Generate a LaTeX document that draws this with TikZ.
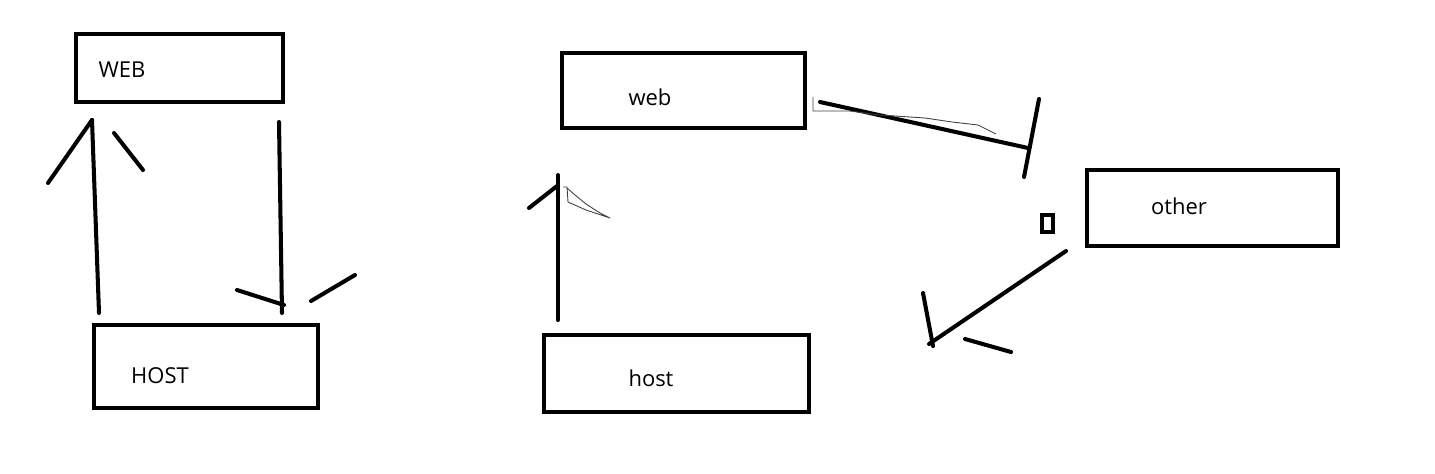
\documentclass[tikz,border=0pt]{standalone}
\usepackage{fontspec}
\setmainfont{Open Sans}
\usetikzlibrary{positioning, fit}

\begin{document}
\begin{tikzpicture}[x=0.02cm, y=-0.02cm,
    box/.style={draw, line width=2.3pt, inner sep=0pt},
    lbl/.style={font=\fontsize{12.5}{15}\selectfont},
    pen/.style={line width=2.3pt, line cap=round},
    scribble/.style={line width=0.5pt, black!75, line join=round}]
  \useasboundingbox (0,0) rectangle (1435,473);

  % boxes
  \node [box, fit={(76,34) (283,102)}] (WEB) {};%
  \node [box, fit={(94,325) (318,408)}] (HOST) {};%
  \node [box, fit={(562,53) (805,128)}] (web) {};%
  \node [box, fit={(544,335) (809,412)}] (host) {};%
  \node [box, fit={(1087,170) (1338,246)}] (other) {};%
  \node [box, line width=1.8pt, fit={(1042,215) (1053,232)}] (dot) {};%

  \node [lbl] (tWEB) at (122,70) {WEB};%
  \node [lbl] (tHOST) at (160,376) {HOST};%
  \node [lbl] (tweb) at (650,97) {web};%
  \node [lbl] (thost) at (651,378) {host};%
  \node [lbl] (tother) at (1179,206) {other};%

  % HOST -> WEB
  \coordinate (u0) at (99,313);%
  \coordinate (u1) at (92,120);%
  \coordinate (u2) at (48,183);%
  \coordinate (u3) at (114,133);%
  \coordinate (u4) at (143,170);%
  \draw [pen] (u0) -- (u1);%
  \draw [pen] (u2) -- (u1);%
  \draw [pen] (u3) -- (u4);%

  % WEB -> HOST
  \coordinate (d0) at (279,122);%
  \coordinate (d1) at (282,313);%
  \coordinate (d2) at (237,290);%
  \coordinate (d3) at (284,305);%
  \coordinate (d4) at (311,301);%
  \coordinate (d5) at (355,275);%
  \draw [pen] (d0) -- (d1);%
  \draw [pen] (d2) -- (d3);%
  \draw [pen] (d4) -- (d5);%

  % host -> web
  \coordinate (h0) at (558,320);%
  \coordinate (h1) at (558,175);%
  \coordinate (h2) at (529,208);%
  \coordinate (h3) at (557,186);%
  \draw [pen] (h0) -- (h1);%
  \draw [pen] (h2) -- (h3);%
  \draw [scribble] (563,187) -- (567,187) -- (568,202) -- (586,210)
    -- (610,218) -- (600,213) -- (586,204) -- (575,195) -- (567,188);%

  % web -> other
  \coordinate (w0) at (820,102);%
  \coordinate (w1) at (1028,148);%
  \coordinate (w2) at (1039,99);%
  \coordinate (w3) at (1024,177);%
  \draw [pen] (w0) -- (w1);%
  \draw [pen] (w2) -- (w3);%
  \draw [scribble] (813,97) -- (813,111) -- (850,111) -- (880,115)
    -- (925,118) -- (952,122) -- (978,125) -- (990,131) -- (996,134);%

  % other -> ?
  \coordinate (o0) at (1066,251);%
  \coordinate (o1) at (929,344);%
  \coordinate (o2) at (923,293);%
  \coordinate (o3) at (933,346);%
  \coordinate (o4) at (965,339);%
  \coordinate (o5) at (1011,352);%
  \draw [pen] (o0) -- (o1);%
  \draw [pen] (o2) -- (o3);%
  \draw [pen] (o4) -- (o5);%
\end{tikzpicture}
\end{document}
